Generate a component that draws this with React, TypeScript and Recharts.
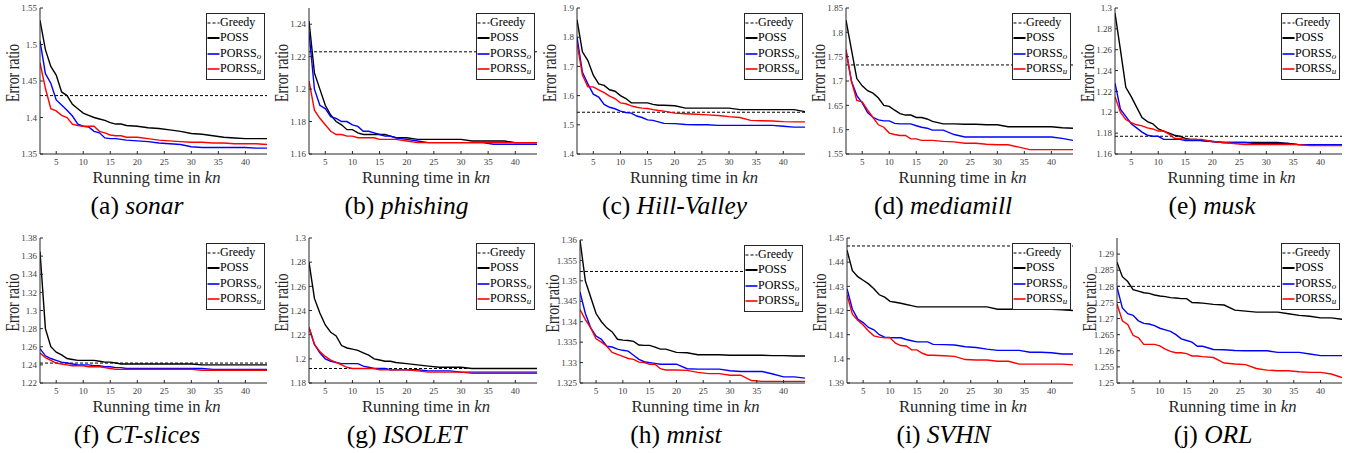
import { LineChart, Line, XAxis, YAxis, ReferenceLine } from 'recharts'

const FONT = '"Liberation Serif", "Times New Roman", serif'
const AXIS = '#262626'

// running time in kn, shared by every panel
const X = [2, 3, 4, 5, 6, 7, 8, 9, 10, 11, 12, 13, 14, 15, 16, 17, 18, 20, 22, 24, 26, 28, 30, 32, 34, 36, 38, 40, 42, 44]
const X_TICKS = [5, 10, 15, 20, 25, 30, 35, 40]

const SONAR_POSS = [1.533, 1.493, 1.47, 1.458, 1.435, 1.43, 1.418, 1.412, 1.406, 1.403, 1.4, 1.398, 1.396, 1.393, 1.391, 1.391, 1.389, 1.388, 1.386, 1.385, 1.383, 1.381, 1.378, 1.377, 1.375, 1.373, 1.372, 1.371, 1.371, 1.371]
const SONAR_O = [1.505, 1.46, 1.447, 1.424, 1.417, 1.41, 1.402, 1.391, 1.388, 1.387, 1.381, 1.379, 1.372, 1.371, 1.371, 1.37, 1.369, 1.368, 1.367, 1.365, 1.364, 1.363, 1.36, 1.359, 1.359, 1.359, 1.359, 1.359, 1.358, 1.358]
const SONAR_U = [1.475, 1.44, 1.412, 1.409, 1.403, 1.4, 1.391, 1.389, 1.388, 1.388, 1.388, 1.381, 1.379, 1.376, 1.375, 1.375, 1.373, 1.373, 1.371, 1.369, 1.368, 1.367, 1.366, 1.366, 1.365, 1.365, 1.364, 1.364, 1.364, 1.363]

const PHISHING_POSS = [1.242, 1.21, 1.2, 1.19, 1.184, 1.18, 1.178, 1.175, 1.175, 1.173, 1.172, 1.172, 1.172, 1.172, 1.172, 1.171, 1.17, 1.17, 1.169, 1.169, 1.169, 1.169, 1.169, 1.168, 1.168, 1.168, 1.168, 1.167, 1.167, 1.167]
const PHISHING_O = [1.235, 1.2, 1.19, 1.188, 1.183, 1.182, 1.18, 1.18, 1.178, 1.177, 1.174, 1.174, 1.173, 1.172, 1.171, 1.171, 1.17, 1.169, 1.168, 1.167, 1.167, 1.167, 1.167, 1.167, 1.167, 1.166, 1.166, 1.166, 1.166, 1.166]
const PHISHING_U = [1.205, 1.187, 1.182, 1.178, 1.174, 1.172, 1.172, 1.171, 1.171, 1.17, 1.17, 1.17, 1.17, 1.169, 1.169, 1.169, 1.169, 1.168, 1.167, 1.167, 1.167, 1.167, 1.167, 1.167, 1.167, 1.167, 1.167, 1.167, 1.167, 1.167]

const HILL_POSS = [1.86, 1.75, 1.72, 1.67, 1.64, 1.635, 1.62, 1.615, 1.6, 1.59, 1.575, 1.575, 1.575, 1.575, 1.57, 1.567, 1.567, 1.565, 1.557, 1.557, 1.557, 1.557, 1.557, 1.552, 1.552, 1.552, 1.552, 1.552, 1.552, 1.545]
const HILL_O = [1.8, 1.68, 1.64, 1.605, 1.595, 1.57, 1.56, 1.555, 1.547, 1.542, 1.54, 1.53, 1.525, 1.517, 1.515, 1.51, 1.505, 1.504, 1.501, 1.5, 1.5, 1.498, 1.498, 1.498, 1.498, 1.498, 1.498, 1.495, 1.492, 1.492]
const HILL_U = [1.78, 1.67, 1.63, 1.63, 1.62, 1.61, 1.598, 1.59, 1.575, 1.572, 1.565, 1.56, 1.557, 1.556, 1.552, 1.549, 1.547, 1.54, 1.538, 1.536, 1.534, 1.532, 1.528, 1.525, 1.515, 1.514, 1.513, 1.511, 1.51, 1.51]

const MEDIAMILL_POSS = [1.825, 1.765, 1.705, 1.69, 1.68, 1.675, 1.665, 1.65, 1.648, 1.64, 1.633, 1.63, 1.63, 1.625, 1.625, 1.622, 1.617, 1.612, 1.612, 1.611, 1.611, 1.61, 1.61, 1.606, 1.606, 1.606, 1.606, 1.606, 1.604, 1.603]
const MEDIAMILL_O = [1.762, 1.7, 1.67, 1.655, 1.635, 1.625, 1.62, 1.618, 1.618, 1.613, 1.612, 1.612, 1.612, 1.608, 1.605, 1.603, 1.599, 1.599, 1.59, 1.585, 1.585, 1.585, 1.585, 1.585, 1.585, 1.585, 1.585, 1.585, 1.582, 1.578]
const MEDIAMILL_U = [1.765, 1.7, 1.66, 1.657, 1.64, 1.625, 1.61, 1.605, 1.593, 1.59, 1.588, 1.588, 1.581, 1.581, 1.578, 1.578, 1.578, 1.576, 1.575, 1.572, 1.572, 1.57, 1.569, 1.569, 1.564, 1.559, 1.559, 1.559, 1.559, 1.559]

const MUSK_POSS = [1.295, 1.26, 1.224, 1.215, 1.205, 1.195, 1.191, 1.189, 1.184, 1.182, 1.18, 1.178, 1.177, 1.175, 1.174, 1.174, 1.173, 1.172, 1.171, 1.171, 1.171, 1.171, 1.171, 1.171, 1.17, 1.169, 1.169, 1.169, 1.169, 1.169]
const MUSK_O = [1.228, 1.203, 1.196, 1.189, 1.185, 1.181, 1.178, 1.177, 1.177, 1.174, 1.174, 1.174, 1.174, 1.173, 1.173, 1.173, 1.173, 1.172, 1.171, 1.171, 1.171, 1.17, 1.17, 1.17, 1.17, 1.169, 1.169, 1.169, 1.169, 1.169]
const MUSK_U = [1.215, 1.2, 1.193, 1.19, 1.188, 1.187, 1.185, 1.184, 1.182, 1.182, 1.179, 1.175, 1.175, 1.174, 1.174, 1.174, 1.174, 1.172, 1.171, 1.17, 1.169, 1.169, 1.169, 1.169, 1.169, 1.169, 1.168, 1.168, 1.168, 1.168]

const CT_POSS = [1.365, 1.28, 1.26, 1.254, 1.251, 1.247, 1.246, 1.245, 1.245, 1.245, 1.245, 1.244, 1.243, 1.243, 1.242, 1.241, 1.241, 1.241, 1.241, 1.241, 1.241, 1.241, 1.241, 1.24, 1.24, 1.24, 1.24, 1.24, 1.24, 1.24]
const CT_O = [1.258, 1.25, 1.247, 1.245, 1.243, 1.242, 1.241, 1.24, 1.24, 1.24, 1.239, 1.239, 1.238, 1.238, 1.237, 1.237, 1.236, 1.236, 1.236, 1.236, 1.236, 1.236, 1.236, 1.236, 1.235, 1.235, 1.235, 1.235, 1.235, 1.235]
const CT_U = [1.253, 1.248, 1.245, 1.242, 1.241, 1.24, 1.239, 1.239, 1.239, 1.238, 1.238, 1.238, 1.237, 1.236, 1.235, 1.235, 1.235, 1.235, 1.235, 1.235, 1.235, 1.235, 1.235, 1.234, 1.234, 1.234, 1.234, 1.234, 1.234, 1.234]

const ISOLET_POSS = [1.28, 1.25, 1.238, 1.228, 1.222, 1.219, 1.211, 1.209, 1.208, 1.207, 1.205, 1.203, 1.2, 1.199, 1.198, 1.198, 1.197, 1.196, 1.195, 1.194, 1.193, 1.193, 1.193, 1.192, 1.192, 1.192, 1.192, 1.192, 1.192, 1.192]
const ISOLET_O = [1.226, 1.212, 1.205, 1.2, 1.198, 1.197, 1.196, 1.196, 1.196, 1.196, 1.194, 1.193, 1.192, 1.192, 1.192, 1.191, 1.191, 1.191, 1.191, 1.19, 1.19, 1.19, 1.189, 1.189, 1.189, 1.189, 1.189, 1.189, 1.189, 1.189]
const ISOLET_U = [1.226, 1.212, 1.206, 1.202, 1.199, 1.197, 1.195, 1.193, 1.192, 1.192, 1.192, 1.192, 1.192, 1.191, 1.191, 1.191, 1.191, 1.191, 1.19, 1.189, 1.189, 1.189, 1.189, 1.188, 1.188, 1.188, 1.188, 1.188, 1.188, 1.188]

const MNIST_POSS = [1.36, 1.35, 1.346, 1.342, 1.34, 1.3385, 1.3375, 1.3357, 1.3355, 1.3354, 1.3352, 1.3343, 1.3342, 1.3342, 1.3338, 1.3333, 1.3333, 1.3325, 1.3324, 1.3319, 1.3319, 1.3319, 1.3318, 1.3318, 1.3318, 1.3318, 1.3317, 1.3317, 1.3316, 1.3316]
const MNIST_O = [1.3473, 1.342, 1.3385, 1.3365, 1.3357, 1.334, 1.3338, 1.3333, 1.333, 1.3328, 1.3318, 1.3308, 1.3302, 1.33, 1.3298, 1.3296, 1.3296, 1.3296, 1.3285, 1.3284, 1.3284, 1.3284, 1.328, 1.3278, 1.3278, 1.3278, 1.3272, 1.3265, 1.3265, 1.3262]
const MNIST_U = [1.343, 1.3405, 1.3385, 1.3358, 1.335, 1.334, 1.3325, 1.332, 1.3315, 1.331, 1.3308, 1.3301, 1.33, 1.3296, 1.3296, 1.3285, 1.3282, 1.3282, 1.3281, 1.3276, 1.3273, 1.3273, 1.3269, 1.3269, 1.3256, 1.3254, 1.3254, 1.3254, 1.3254, 1.3254]

const SVHN_POSS = [1.445, 1.4365, 1.434, 1.4325, 1.431, 1.429, 1.4265, 1.4255, 1.4238, 1.4234, 1.423, 1.4225, 1.422, 1.4215, 1.4215, 1.4215, 1.4215, 1.4215, 1.4215, 1.4215, 1.4215, 1.4215, 1.4205, 1.4205, 1.4205, 1.4205, 1.4205, 1.4205, 1.4203, 1.42]
const SVHN_O = [1.429, 1.4205, 1.4165, 1.415, 1.413, 1.412, 1.41, 1.409, 1.4088, 1.4087, 1.4087, 1.408, 1.4075, 1.407, 1.407, 1.407, 1.406, 1.4059, 1.4057, 1.405, 1.4047, 1.404, 1.4035, 1.4035, 1.4035, 1.4027, 1.4027, 1.4025, 1.402, 1.402]
const SVHN_U = [1.4265, 1.4185, 1.416, 1.414, 1.4115, 1.4095, 1.409, 1.4087, 1.4087, 1.4065, 1.4055, 1.4053, 1.4037, 1.4037, 1.4023, 1.4015, 1.4015, 1.4013, 1.401, 1.3997, 1.3995, 1.3995, 1.399, 1.399, 1.3978, 1.3978, 1.3978, 1.3978, 1.3978, 1.3975]

const ORL_POSS = [1.2875, 1.283, 1.2815, 1.279, 1.2785, 1.278, 1.2778, 1.2773, 1.277, 1.2768, 1.2765, 1.2764, 1.2762, 1.2762, 1.275, 1.2749, 1.2748, 1.2744, 1.2742, 1.2726, 1.2723, 1.272, 1.272, 1.272, 1.2715, 1.271, 1.2707, 1.2702, 1.2702, 1.2698]
const ORL_O = [1.2797, 1.2733, 1.2715, 1.271, 1.2693, 1.2685, 1.2683, 1.2678, 1.267, 1.2665, 1.266, 1.265, 1.2637, 1.2632, 1.2627, 1.2614, 1.2614, 1.2604, 1.2603, 1.2601, 1.26, 1.26, 1.26, 1.2595, 1.2595, 1.2595, 1.259, 1.2585, 1.2585, 1.2585]
const ORL_U = [1.2745, 1.2693, 1.2682, 1.2648, 1.264, 1.262, 1.262, 1.262, 1.2615, 1.2605, 1.2598, 1.2594, 1.2594, 1.2591, 1.2584, 1.2584, 1.2582, 1.2579, 1.2562, 1.2559, 1.2557, 1.2545, 1.254, 1.2538, 1.2538, 1.2535, 1.2533, 1.2533, 1.2528, 1.2517]

const GREEDY = [1.43, 1.223, 1.543, 1.733, 1.177, 1.242, 1.192, 1.3523, 1.4467, 1.28]

const SONAR_TICKS = [1.35, 1.4, 1.45, 1.5, 1.55]
const PHISHING_TICKS = [1.16, 1.18, 1.2, 1.22, 1.24]
const HILL_TICKS = [1.4, 1.5, 1.6, 1.7, 1.8, 1.9]
const MEDIAMILL_TICKS = [1.55, 1.6, 1.65, 1.7, 1.75, 1.8, 1.85]
const MUSK_TICKS = [1.16, 1.18, 1.2, 1.22, 1.24, 1.26, 1.28, 1.3]
const CT_TICKS = [1.22, 1.24, 1.26, 1.28, 1.3, 1.32, 1.34, 1.36, 1.38]
const ISOLET_TICKS = [1.18, 1.2, 1.22, 1.24, 1.26, 1.28, 1.3]
const MNIST_TICKS = [1.325, 1.33, 1.335, 1.34, 1.345, 1.35, 1.355, 1.36]
const SVHN_TICKS = [1.39, 1.4, 1.41, 1.42, 1.43, 1.44, 1.45]
const ORL_TICKS = [1.25, 1.255, 1.26, 1.265, 1.27, 1.275, 1.28, 1.285, 1.29]

const SERIES = [
  { key: 'poss', name: 'POSS', sub: '', color: '#000000', width: 2 },
  { key: 'o', name: 'PORSS', sub: 'o', color: '#0000ff', width: 1.6 },
  { key: 'u', name: 'PORSS', sub: 'u', color: '#ff0000', width: 1.6 },
]

const PANELS = [
  { tag: 'a', name: 'sonar', poss: SONAR_POSS, o: SONAR_O, u: SONAR_U, ticks: SONAR_TICKS, domain: [1.35, 1.55] },
  { tag: 'b', name: 'phishing', poss: PHISHING_POSS, o: PHISHING_O, u: PHISHING_U, ticks: PHISHING_TICKS, domain: [1.16, 1.25] },
  { tag: 'c', name: 'Hill-Valley', poss: HILL_POSS, o: HILL_O, u: HILL_U, ticks: HILL_TICKS, domain: [1.4, 1.9] },
  { tag: 'd', name: 'mediamill', poss: MEDIAMILL_POSS, o: MEDIAMILL_O, u: MEDIAMILL_U, ticks: MEDIAMILL_TICKS, domain: [1.55, 1.85] },
  { tag: 'e', name: 'musk', poss: MUSK_POSS, o: MUSK_O, u: MUSK_U, ticks: MUSK_TICKS, domain: [1.16, 1.3] },
  { tag: 'f', name: 'CT-slices', poss: CT_POSS, o: CT_O, u: CT_U, ticks: CT_TICKS, domain: [1.22, 1.38] },
  { tag: 'g', name: 'ISOLET', poss: ISOLET_POSS, o: ISOLET_O, u: ISOLET_U, ticks: ISOLET_TICKS, domain: [1.18, 1.3] },
  { tag: 'h', name: 'mnist', poss: MNIST_POSS, o: MNIST_O, u: MNIST_U, ticks: MNIST_TICKS, domain: [1.325, 1.36] },
  { tag: 'i', name: 'SVHN', poss: SVHN_POSS, o: SVHN_O, u: SVHN_U, ticks: SVHN_TICKS, domain: [1.39, 1.45] },
  { tag: 'j', name: 'ORL', poss: ORL_POSS, o: ORL_O, u: ORL_U, ticks: ORL_TICKS, domain: [1.25, 1.295] },
]

// plot-area rectangles on the page, one per panel
const LAYOUT = [
  { x: 40, y: 8, w: 227, h: 146 },
  { x: 309, y: 8, w: 228, h: 146 },
  { x: 577, y: 8, w: 228, h: 146 },
  { x: 846, y: 8, w: 227, h: 146 },
  { x: 1115, y: 8, w: 227, h: 146 },
  { x: 40, y: 238, w: 227, h: 145 },
  { x: 309, y: 238, w: 228, h: 145 },
  { x: 580, y: 240, w: 225, h: 143 },
  { x: 847, y: 238, w: 226, h: 145 },
  { x: 1117, y: 238, w: 225, h: 145 },
]

const PAD_L = 40
const PAD_T = 8
const PAD_R = 8
const X_AXIS_H = 34

const fmt = (v: number) => String(parseFloat(v.toFixed(3)))

function XTitle(props: any) {
  const { x, y, width } = props.viewBox
  return (
    <text x={x + width / 2 + 3} y={y + 29} textAnchor="middle" fontSize={17} fontFamily={FONT} fill={AXIS}
      textLength={128} lengthAdjust="spacingAndGlyphs">
      Running time in <tspan fontStyle="italic">kn</tspan>
    </text>
  )
}

function YTitle(props: any) {
  const { x, y, width, height } = props.viewBox
  const cx = x + width - 27
  const cy = y + height / 2 - 8
  return (
    <text x={cx} y={cy} transform={`rotate(-90 ${cx} ${cy})`} textAnchor="middle" dominantBaseline="central"
      fontSize={18} fontFamily={FONT} fill={AXIS} textLength={58} lengthAdjust="spacingAndGlyphs">
      Error ratio
    </text>
  )
}

function LegendBox() {
  const rows = [{ name: 'Greedy', sub: '', color: '#000', width: 1, dash: '3 2' }, ...SERIES.map((s) => ({ ...s, dash: undefined }))]
  return (
    <div style={{
      position: 'absolute', right: PAD_R + 2, top: PAD_T + 5, width: 59, height: 67, boxSizing: 'border-box',
      border: `1px solid ${AXIS}`, background: '#fff', fontFamily: FONT, fontSize: 12, color: '#000',
    }}>
      {rows.map((r, i) => (
        <div key={i} style={{ position: 'absolute', left: 0, top: 1 + i * 15.3, height: 15, lineHeight: '15px', whiteSpace: 'nowrap' }}>
          <svg width={13} height={15} style={{ position: 'absolute', left: 0, top: 0 }}>
            <line x1={0.5} y1={8} x2={12.5} y2={8} stroke={r.color} strokeWidth={r.width} strokeDasharray={r.dash} />
          </svg>
          <span style={{ position: 'absolute', left: 13 }}>
            {r.name}
            {r.sub && <sub style={{ fontStyle: 'italic', fontSize: 9, verticalAlign: '-2px' }}>{r.sub}</sub>}
          </span>
        </div>
      ))}
    </div>
  )
}

function Panel({ index }: { index: number }) {
  const p = PANELS[index]
  const r = LAYOUT[index]
  const width = r.w + PAD_L + PAD_R
  const height = r.h + PAD_T + X_AXIS_H
  const rows = X.map((x, i) => ({ x, poss: p.poss[i], o: p.o[i], u: p.u[i] }))
  const tickStyle = { fontSize: 9, fill: '#404040', fontFamily: FONT }
  const capCenter = (r.x - 33 + r.x + r.w) / 2

  return (
    <>
      <div style={{ position: 'absolute', left: r.x - PAD_L, top: r.y - PAD_T, width, height }}>
        <LineChart width={width} height={height} data={rows} margin={{ top: PAD_T, right: PAD_R, left: 0, bottom: 0 }}>
          <XAxis dataKey="x" type="number" domain={[2, 44]} ticks={X_TICKS} allowDataOverflow height={X_AXIS_H}
            stroke={AXIS} tickSize={-3} tickMargin={8} tick={tickStyle} label={XTitle} />
          <XAxis xAxisId="top" orientation="top" dataKey="x" type="number" domain={[2, 44]} ticks={X_TICKS}
            allowDataOverflow height={0} stroke={AXIS} tickSize={-3} tick={false} />
          <YAxis domain={p.domain} ticks={p.ticks} allowDataOverflow width={PAD_L} stroke={AXIS}
            tickSize={-3} tickMargin={6} tick={tickStyle} tickFormatter={fmt} label={YTitle} />
          <YAxis yAxisId="right" orientation="right" domain={p.domain} ticks={p.ticks} allowDataOverflow width={0}
            stroke={AXIS} tickSize={-3} tick={false} />
          <ReferenceLine y={GREEDY[index]} stroke="#000" strokeWidth={1} strokeDasharray="3 2" />
          {SERIES.map((s) => (
            <Line key={s.key} dataKey={s.key} type="linear" stroke={s.color} strokeWidth={1.4} dot={false}
              isAnimationActive={false} />
          ))}
        </LineChart>
        <LegendBox />
      </div>
      <div style={{
        position: 'absolute', left: capCenter - 120, width: 240, top: r.y + r.h + 37, textAlign: 'center',
        fontFamily: FONT, fontSize: 25.5, lineHeight: '30px', color: '#000', whiteSpace: 'nowrap',
      }}>
        ({p.tag}) <i>{p.name}</i>
      </div>
    </>
  )
}

export default function App() {
  return (
    <div style={{ position: 'absolute', left: 0, top: 0, width: 1354, height: 453, background: '#fff', overflow: 'hidden' }}>
      {PANELS.map((_, i) => <Panel key={i} index={i} />)}
    </div>
  )
}
